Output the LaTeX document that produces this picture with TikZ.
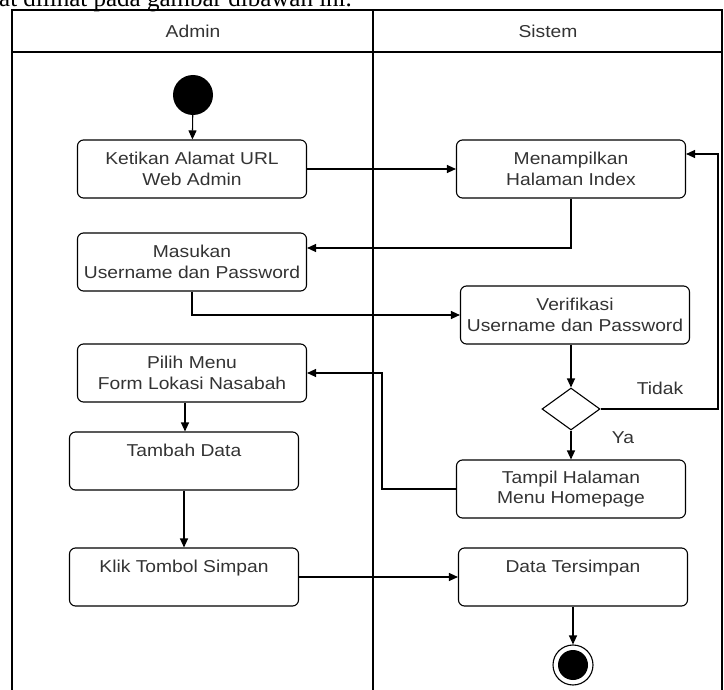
\documentclass[tikz,border=0pt]{standalone}
\usepackage{fontspec}
\setmainfont{Liberation Sans}[FakeStretch=1.12]
\newfontfamily\headserif{Liberation Serif}
\usetikzlibrary{arrows.meta,shapes.geometric}
\definecolor{txt}{HTML}{333333}
\begin{document}
\begin{tikzpicture}[x=1pt,y=-1pt,
  every node/.style={font=\fontsize{17.2}{20.5}\selectfont, text=txt},
  act/.style={draw=black, rounded corners=6pt, line width=1.1pt, align=center, inner sep=0pt, minimum width=229pt, minimum height=58pt},
  flow/.style={draw=black, line width=1.1pt, -{Triangle[length=9pt,width=8pt]}},
  lane/.style={draw=black, line width=1.1pt},
  dec/.style={draw=black, diamond, line width=1.1pt, inner sep=0pt, minimum width=58pt, minimum height=42pt},
  lbl/.style={anchor=north, inner sep=0pt}
]
\useasboundingbox (0,0) rectangle (724,690);
\begin{scope}
\clip (0,0) rectangle (724,690);
\node[anchor=base west, inner sep=0pt, text=black, font=\headserif\fontsize{25}{28}\selectfont] (cap) at (-1,7) {at dilihat pada gambar dibawah ini.};
% swimlanes
\draw[lane] (12,700) -- (12,10) -- (722,10) -- (722,700);
\draw[lane] (12,52) -- (722,52);
\draw[lane] (373,10) -- (373,700);
\node (hadmin) at (193,31) {Admin};
\node (hsistem) at (548,31) {Sistem};
% nodes
\node[circle, fill=black, minimum size=40pt, inner sep=0pt] (start) at (193,95) {};
\node[act] (ketik) at (192,169) {Ketikan Alamat URL\\Web Admin};
\node[act] (tampilidx) at (571,169) {Menampilkan\\Halaman Index};
\node[act] (masuk) at (192,262) {Masukan\\Username dan Password};
\node[act] (verif) at (575,315) {Verifikasi\\Username dan Password};
\node[dec] (cek) at (571,409) {};
\node[act] (pilih) at (192,373) {Pilih Menu\\Form Lokasi Nasabah};
\node[act] (tampilhome) at (571,489) {Tampil Halaman\\Menu Homepage};
\node[act] (tambah) at (184,461) {};
\node[lbl] (tambahtxt) at ([yshift=-12pt]tambah.north) {Tambah Data};
\node[act] (klik) at (184,577) {};
\node[lbl] (kliktxt) at ([yshift=-12pt]klik.north) {Klik Tombol Simpan};
\node[act] (data) at (573,577) {};
\node[lbl] (datatxt) at ([yshift=-12pt]data.north) {Data Tersimpan};
\node[circle, draw=black, line width=1.1pt, minimum size=40pt, inner sep=0pt] (end) at (573,665) {};
\node[circle, fill=black, minimum size=30pt, inner sep=0pt] (endin) at (end.center) {};
% connectors
\draw[flow] (start) -- (ketik);
\draw[flow] (ketik) -- (tampilidx);
\draw[flow] (tampilidx.south) |- (masuk.east |- 0,248);
\draw[flow] (masuk.south) |- (verif.west);
\draw[flow] (verif.south -| cek.north) -- (cek.north);
\draw[flow] (cek.east) -- (718,409) |- (tampilidx.east |- 0,154);
\node[anchor=center] (tidak) at (660,388) {Tidak};
\draw[flow] (cek.south) -- (tampilhome.north -| cek.south);
\node[anchor=center] (ya) at (623,438) {Ya};
\draw[flow] (tampilhome.west) -- (382,489) |- (pilih.east);
\draw[flow] (pilih.south -| 185,0) -- (tambah.north -| 185,0);
\draw[flow] (tambah.south) -- (klik.north);
\draw[flow] (klik.east) -- (data.west);
\draw[flow] (data.south) -- (end.north);
\end{scope}
\end{tikzpicture}
\end{document}
